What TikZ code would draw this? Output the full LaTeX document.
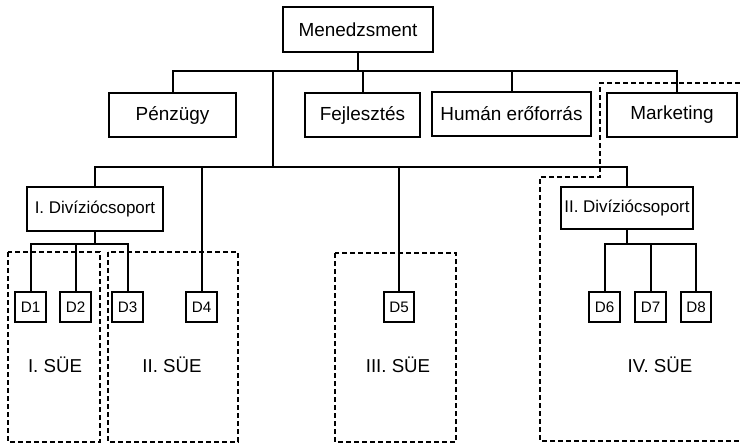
\documentclass[tikz,border=0pt]{standalone}
\usepackage{fontspec}
\setmainfont{Liberation Sans}
\tikzset{
  unitbox/.style={draw, line width=1.5pt, inner sep=0pt, minimum height=33pt, font=\fontsize{14.2}{17}\selectfont},
  divbox/.style={unitbox, font=\fontsize{12.7}{15}\selectfont},
  dbox/.style={draw, line width=1.5pt, inner sep=0pt, minimum width=23pt, minimum height=23pt, font=\fontsize{11.4}{13}\selectfont},
  link/.style={line width=1.5pt},
  suebox/.style={line width=1.5pt, dash pattern=on 3.4pt off 2.6pt},
  suelabel/.style={font=\fontsize{14}{17}\selectfont}
}

\begin{document}
\begin{tikzpicture}[x=0.75pt,y=-0.75pt]
  \useasboundingbox (0,0) rectangle (740,444);
  % top level
  \node[unitbox, minimum width=112.5pt, minimum height=33.75pt] (men) at (358,29.5) {Menedzsment};
  \node[unitbox, minimum width=95.25pt] (pen) at (172.5,115) {Pénzügy};
  \node[unitbox, minimum width=86.25pt] (fej) at (362.5,115) {Fejlesztés};
  \node[unitbox, minimum width=119.25pt] (hum) at (511.5,114) {Humán erőforrás};
  \node[unitbox, minimum width=97.5pt] (mkt) at (672,114.5) {Marketing};
  % divisions
  \node[divbox, minimum width=102pt] (div1) at (95,209) {I. Divíziócsoport};
  \node[divbox, minimum width=99pt, minimum height=31.5pt] (div2) at (627,208) {II. Divíziócsoport};
  % units
  \foreach \n/\x in {1/30.5,2/75.5,3/127.5,4/201.5,5/399,6/604.5,7/650.5,8/696} {
    \node[dbox] (d\n) at (\x,307) {D\n};
  }
  % connectors
  \coordinate (trunk) at (273,71);
  \coordinate (hub) at (273,167);
  \draw[link] (men.south) -- (men.south |- trunk);
  \draw[link] (pen.north) |- (trunk) -| ([xshift=3.75pt]mkt.north);
  \draw[link] (fej.north) -- (fej.north |- trunk);
  \draw[link] (hum.north) -- (hum.north |- trunk);
  \draw[link] (trunk) -- (hub);
  \draw[link] (div1.north) |- (hub) -| (div2.north);
  \draw[link] (d4.north) |- (hub);
  \draw[link] (d5.north) |- (hub);
  \draw[link] (div1.south) -- ++(0,12) coordinate (h1);
  \draw[link] (d1.north) |- (h1) -| (d3.north);
  \draw[link] (d2.north) |- (h1);
  \draw[link] (div2.south) -- ++(0,14) coordinate (h2);
  \draw[link] (d6.north) |- (h2) -| (d8.north);
  \draw[link] (d7.north) |- (h2);
  % strategic business units
  \draw[suebox] (8,252) rectangle (100,442);
  \draw[suebox] (108,252) rectangle (238,442);
  \draw[suebox] (335,253) rectangle (456,442);
  \draw[suebox] (740,83) -- (600,83) -- (600,177) -- (540,177) -- (540,441) -- (740,441);
  \node[suelabel] (sue1) at (55,365) {I. SÜE};
  \node[suelabel] (sue2) at (172,365) {II. SÜE};
  \node[suelabel] (sue3) at (398,365) {III. SÜE};
  \node[suelabel] (sue4) at (660,365) {IV. SÜE};
\end{tikzpicture}
\end{document}
